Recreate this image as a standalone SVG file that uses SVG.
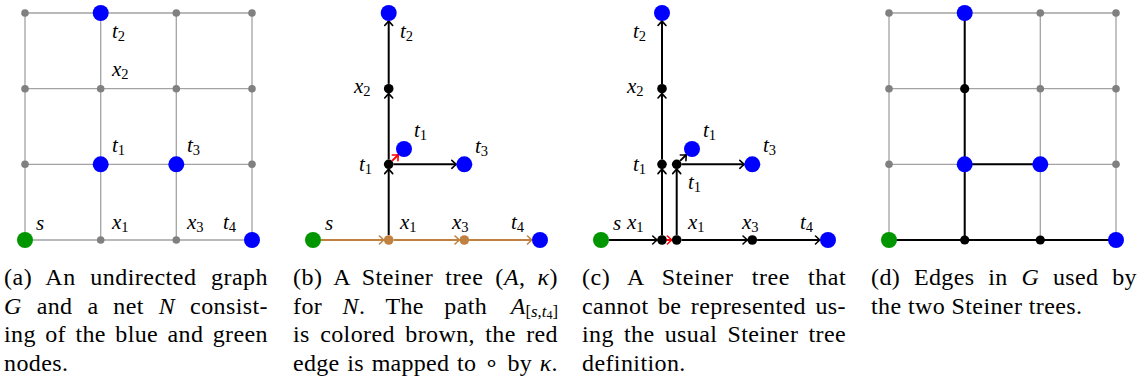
<svg xmlns="http://www.w3.org/2000/svg" width="1145" height="383" viewBox="0 0 1145 383">
<style>
.g{stroke:#a3a3a3;stroke-width:1.3;fill:none}
.gn{fill:#808080}
.bl{fill:#0000ff}
.gr{fill:#009600}
.bk{fill:#000}
.br{fill:#bf8040}
.e{stroke:#000;stroke-width:2;fill:none;marker-end:url(#ak)}
.ep{stroke:#000;stroke-width:2;fill:none}
.eb{stroke:#bf8040;stroke-width:2;fill:none;marker-end:url(#ab)}
.er{stroke:#ff0000;stroke-width:2;fill:none;marker-end:url(#ar)}
.m{font-family:"Liberation Serif",serif;font-style:italic;font-size:21px;fill:#000}
.s{font-style:normal;font-size:14.5px}
.cap{font-family:"Liberation Serif",serif;font-size:24px;fill:#000;letter-spacing:0.4px}
.i{font-style:italic}
.sb{font-size:16.8px}
.ssb{font-size:12px}
</style>
<defs>
<marker id="ak" viewBox="-7 -6 9 12" refX="0" refY="0" markerWidth="9" markerHeight="12" markerUnits="userSpaceOnUse" orient="auto" overflow="visible"><path d="M-4.5,-4 Q-1.5,-1.2 0,0 Q-1.5,1.2 -4.5,4" fill="none" stroke="#000" stroke-width="1.6" stroke-linecap="round"/></marker>
<marker id="ab" viewBox="-7 -6 9 12" refX="0" refY="0" markerWidth="9" markerHeight="12" markerUnits="userSpaceOnUse" orient="auto" overflow="visible"><path d="M-4.5,-4 Q-1.5,-1.2 0,0 Q-1.5,1.2 -4.5,4" fill="none" stroke="#bf8040" stroke-width="1.6" stroke-linecap="round"/></marker>
<marker id="ar" viewBox="-7 -6 9 12" refX="0" refY="0" markerWidth="9" markerHeight="12" markerUnits="userSpaceOnUse" orient="auto" overflow="visible"><path d="M-4.5,-4 Q-1.5,-1.2 0,0 Q-1.5,1.2 -4.5,4" fill="none" stroke="#ff0000" stroke-width="1.6" stroke-linecap="round"/></marker>
</defs>

<!-- connectors -->
<g id="connectors">
  <path class="g" d="M25,13H252M25,88.7H252M25,164.3H252M25,240H252M25,13V240M100.7,13V240M176.3,13V240M252,13V240"/>
  <path class="g" d="M889,13H1116M889,88.7H1116M889,164.3H1116M889,240H1116M889,13V240M964.7,13V240M1040.3,13V240M1116,13V240"/>
  <path class="ep" d="M964.7,13V240M964.7,164.3H1040.3M889,240H1116"/>
  <line class="eb" x1="321" y1="240" x2="383.9" y2="240"/>
  <line class="eb" x1="393.5" y1="240" x2="459.5" y2="240"/>
  <line class="eb" x1="469.1" y1="240" x2="532" y2="240"/>
  <line class="e" x1="388.7" y1="235.2" x2="388.7" y2="169.1"/>
  <line class="e" x1="388.7" y1="159.5" x2="388.7" y2="93.5"/>
  <line class="e" x1="388.7" y1="83.9" x2="388.7" y2="21"/>
  <line class="e" x1="393.5" y1="164.3" x2="456.3" y2="164.3"/>
  <line class="er" x1="392.1" y1="160.9" x2="398.3" y2="154.7"/>
  <line class="e" x1="609" y1="240" x2="657.2" y2="240"/>
  <line class="er" x1="666.4" y1="240" x2="671.9" y2="240"/>
  <line class="e" x1="662" y1="235.2" x2="662" y2="169.1"/>
  <line class="e" x1="662" y1="159.5" x2="662" y2="93.5"/>
  <line class="e" x1="662" y1="83.9" x2="662" y2="21"/>
  <line class="e" x1="676.7" y1="235.2" x2="676.7" y2="169.1"/>
  <line class="e" x1="680.1" y1="160.9" x2="686.3" y2="154.7"/>
  <line class="e" x1="681.5" y1="164.3" x2="744.3" y2="164.3"/>
  <line class="e" x1="681.5" y1="240" x2="747.5" y2="240"/>
  <line class="e" x1="757.1" y1="240" x2="820" y2="240"/>
</g>

<!-- panel a nodes -->
<g id="a-n00"><circle class="gn" cx="25" cy="13" r="3.8"/></g>
<g id="a-t2"><circle class="bl" cx="100.7" cy="13" r="8"/><text class="m" x="112" y="38">t<tspan class="s" dy="3">2</tspan></text></g>
<g id="a-n20"><circle class="gn" cx="176.3" cy="13" r="3.8"/></g>
<g id="a-n30"><circle class="gn" cx="252" cy="13" r="3.8"/></g>
<g id="a-n01"><circle class="gn" cx="25" cy="88.7" r="3.8"/></g>
<g id="a-x2"><circle class="gn" cx="100.7" cy="88.7" r="3.8"/><text class="m" x="112" y="76">x<tspan class="s" dy="3">2</tspan></text></g>
<g id="a-n21"><circle class="gn" cx="176.3" cy="88.7" r="3.8"/></g>
<g id="a-n31"><circle class="gn" cx="252" cy="88.7" r="3.8"/></g>
<g id="a-n02"><circle class="gn" cx="25" cy="164.3" r="3.8"/></g>
<g id="a-t1"><circle class="bl" cx="100.7" cy="164.3" r="8"/><text class="m" x="112" y="152">t<tspan class="s" dy="3">1</tspan></text></g>
<g id="a-t3"><circle class="bl" cx="176.3" cy="164.3" r="8"/><text class="m" x="187" y="152">t<tspan class="s" dy="3">3</tspan></text></g>
<g id="a-n32"><circle class="gn" cx="252" cy="164.3" r="3.8"/></g>
<g id="a-s"><circle class="gr" cx="25" cy="240" r="8"/><text class="m" x="36" y="230">s</text></g>
<g id="a-x1"><circle class="gn" cx="100.7" cy="240" r="3.8"/><text class="m" x="112" y="229">x<tspan class="s" dy="3">1</tspan></text></g>
<g id="a-x3"><circle class="gn" cx="176.3" cy="240" r="3.8"/><text class="m" x="187" y="229">x<tspan class="s" dy="3">3</tspan></text></g>
<g id="a-t4"><circle class="bl" cx="252" cy="240" r="8"/><text class="m" x="223" y="229">t<tspan class="s" dy="3">4</tspan></text></g>

<!-- panel b nodes -->
<g id="b-t2"><circle class="bl" cx="388.7" cy="13" r="8"/><text class="m" x="400" y="38">t<tspan class="s" dy="3">2</tspan></text></g>
<g id="b-x2"><circle class="bk" cx="388.7" cy="88.7" r="4.8"/><text class="m" x="354" y="93">x<tspan class="s" dy="3">2</tspan></text></g>
<g id="b-t1a"><circle class="bk" cx="388.7" cy="164.3" r="4.8"/><text class="m" x="359" y="171">t<tspan class="s" dy="3">1</tspan></text></g>
<g id="b-t1b"><circle class="bl" cx="404" cy="149" r="8"/><text class="m" x="414" y="137">t<tspan class="s" dy="3">1</tspan></text></g>
<g id="b-t3"><circle class="bl" cx="464.3" cy="164.3" r="8"/><text class="m" x="475" y="153">t<tspan class="s" dy="3">3</tspan></text></g>
<g id="b-s"><circle class="gr" cx="313" cy="240" r="8"/><text class="m" x="325" y="230">s</text></g>
<g id="b-x1"><circle class="br" cx="388.7" cy="240" r="4.8"/><text class="m" x="400" y="229">x<tspan class="s" dy="3">1</tspan></text></g>
<g id="b-x3"><circle class="br" cx="464.3" cy="240" r="4.8"/><text class="m" x="452" y="229">x<tspan class="s" dy="3">3</tspan></text></g>
<g id="b-t4"><circle class="bl" cx="540" cy="240" r="8"/><text class="m" x="511" y="229">t<tspan class="s" dy="3">4</tspan></text></g>

<!-- panel c nodes -->
<g id="c-t2"><circle class="bl" cx="662" cy="13" r="8"/><text class="m" x="633" y="38">t<tspan class="s" dy="3">2</tspan></text></g>
<g id="c-x2"><circle class="bk" cx="662" cy="88.7" r="4.8"/><text class="m" x="627" y="93">x<tspan class="s" dy="3">2</tspan></text></g>
<g id="c-t1a"><circle class="bk" cx="662" cy="164.3" r="4.8"/><text class="m" x="633" y="171">t<tspan class="s" dy="3">1</tspan></text></g>
<g id="c-t1b"><circle class="bk" cx="676.7" cy="164.3" r="4.8"/><text class="m" x="688" y="189">t<tspan class="s" dy="3">1</tspan></text></g>
<g id="c-t1c"><circle class="bl" cx="692" cy="149" r="8"/><text class="m" x="703" y="137">t<tspan class="s" dy="3">1</tspan></text></g>
<g id="c-t3"><circle class="bl" cx="752.3" cy="164.3" r="8"/><text class="m" x="763" y="152">t<tspan class="s" dy="3">3</tspan></text></g>
<g id="c-s"><circle class="gr" cx="601" cy="240" r="8"/><text class="m" x="613" y="230">s</text></g>
<g id="c-x1a"><circle class="bk" cx="662" cy="240" r="4.8"/><text class="m" x="627" y="229">x<tspan class="s" dy="3">1</tspan></text></g>
<g id="c-x1b"><circle class="bk" cx="676.7" cy="240" r="4.8"/><text class="m" x="688" y="229">x<tspan class="s" dy="3">1</tspan></text></g>
<g id="c-x3"><circle class="bk" cx="752.3" cy="240" r="4.8"/><text class="m" x="742" y="229">x<tspan class="s" dy="3">3</tspan></text></g>
<g id="c-t4"><circle class="bl" cx="828" cy="240" r="8"/><text class="m" x="800" y="229">t<tspan class="s" dy="3">4</tspan></text></g>

<!-- panel d nodes -->
<g id="d-n00"><circle class="gn" cx="889" cy="13" r="3.8"/></g>
<g id="d-t2"><circle class="bl" cx="964.7" cy="13" r="8"/></g>
<g id="d-n20"><circle class="gn" cx="1040.3" cy="13" r="3.8"/></g>
<g id="d-n30"><circle class="gn" cx="1116" cy="13" r="3.8"/></g>
<g id="d-n01"><circle class="gn" cx="889" cy="88.7" r="3.8"/></g>
<g id="d-x2"><circle class="bk" cx="964.7" cy="88.7" r="4.6"/></g>
<g id="d-n21"><circle class="gn" cx="1040.3" cy="88.7" r="3.8"/></g>
<g id="d-n31"><circle class="gn" cx="1116" cy="88.7" r="3.8"/></g>
<g id="d-n02"><circle class="gn" cx="889" cy="164.3" r="3.8"/></g>
<g id="d-t1"><circle class="bl" cx="964.7" cy="164.3" r="8"/></g>
<g id="d-t3"><circle class="bl" cx="1040.3" cy="164.3" r="8"/></g>
<g id="d-n32"><circle class="gn" cx="1116" cy="164.3" r="3.8"/></g>
<g id="d-s"><circle class="gr" cx="889" cy="240" r="8"/></g>
<g id="d-x1"><circle class="bk" cx="964.7" cy="240" r="4.6"/></g>
<g id="d-x3"><circle class="bk" cx="1040.3" cy="240" r="4.6"/></g>
<g id="d-t4"><circle class="bl" cx="1116" cy="240" r="8"/></g>

<!-- captions -->
<g id="cap-a" class="cap">
  <text x="4" y="285" word-spacing="8" textLength="264" lengthAdjust="spacing">(a) An undirected graph</text>
  <text x="4" y="314" word-spacing="8.5" textLength="264" lengthAdjust="spacing"><tspan class="i">G</tspan> and a net <tspan class="i">N</tspan> consist-</text>
  <text x="4" y="342" word-spacing="3" textLength="264" lengthAdjust="spacing">ing of the blue and green</text>
  <text x="4" y="371">nodes.</text>
</g>
<g id="cap-b" class="cap">
  <text x="293" y="285" word-spacing="5.5" textLength="265" lengthAdjust="spacing">(b) A Steiner tree (<tspan class="i">A</tspan>, <tspan class="i">κ</tspan>)</text>
  <text x="293" y="314" word-spacing="14">for <tspan class="i">N</tspan>. The path</text>
  <text x="558" y="314" text-anchor="end" letter-spacing="0"><tspan class="i">A</tspan><tspan class="sb" dy="3">[<tspan class="i">s</tspan>,<tspan class="i">t</tspan><tspan class="ssb" dy="2">4</tspan><tspan dy="-2">]</tspan></tspan></text>
  <text x="293" y="342" word-spacing="4" textLength="265" lengthAdjust="spacing">is colored brown, the red</text>
  <text x="293" y="371" word-spacing="1.7" textLength="265" lengthAdjust="spacing">edge is mapped to ∘ by <tspan class="i">κ</tspan>.</text>
</g>
<g id="cap-c" class="cap">
  <text x="582" y="285" word-spacing="11.5" textLength="264" lengthAdjust="spacing">(c) A Steiner tree that</text>
  <text x="582" y="314" word-spacing="3" textLength="264" lengthAdjust="spacing">cannot be represented us-</text>
  <text x="582" y="342" word-spacing="3.7" textLength="264" lengthAdjust="spacing">ing the usual Steiner tree</text>
  <text x="582" y="371">definition.</text>
</g>
<g id="cap-d" class="cap">
  <text x="871" y="285" word-spacing="7.3" textLength="266" lengthAdjust="spacing">(d) Edges in <tspan class="i">G</tspan> used by</text>
  <text x="871" y="314">the two Steiner trees.</text>
</g>
</svg>
